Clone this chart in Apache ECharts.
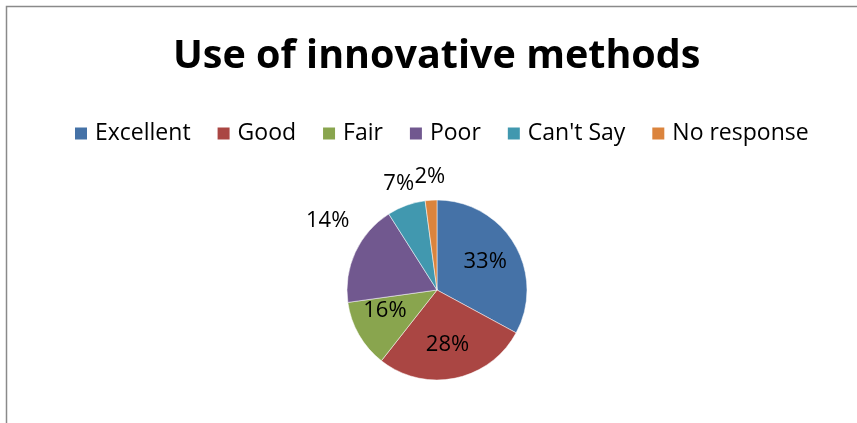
<!DOCTYPE html>
<html>
<head>
<meta charset="utf-8">
<script src="https://cdn.jsdelivr.net/npm/echarts@6/dist/echarts.min.js"></script>
<style>
html,body{margin:0;padding:0;background:#fff;}
#chart{width:857px;height:423px;}
</style>
</head>
<body>
<div id="chart"></div>
<script>
var titleText = 'Use of innovative methods';
var categories = ['Excellent', 'Good', 'Fair', 'Poor', "Can't Say", 'No response'];
// slice sizes as drawn in the reference picture
var drawnShares = [32.9, 27.7, 12.2, 18.2, 6.9, 2.1];
// percentages as printed on the reference picture
var printedPercents = [33, 28, 16, 14, 7, 2];
var colors = ['#4572A7', '#AA4643', '#89A54E', '#71588F', '#4198AF', '#DB843D'];

var FONT = '"Open Sans", Lato, sans-serif';

var chart = echarts.init(document.getElementById('chart'), null, {renderer: 'canvas'});

// invisible pie rings that only carry the printed percentage labels
function labelSeries(radius, shownIndices) {
  return {
    type: 'pie',
    silent: true,
    center: [437, 290],
    radius: radius,
    startAngle: 90,
    clockwise: true,
    z: 5,
    itemStyle: {color: 'rgba(0,0,0,0)', borderWidth: 0},
    emphasis: {disabled: true},
    legendHoverLink: false,
    data: categories.map(function (c, i) {
      return {
        name: c,
        value: printedPercents[i],
        label: {show: shownIndices.indexOf(i) >= 0}
      };
    }),
    label: {
      position: 'inside',
      formatter: function (p) { return printedPercents[p.dataIndex] + '%'; },
      fontFamily: FONT,
      fontSize: 22,
      color: '#000',
      textBorderWidth: 0
    },
    labelLine: {show: false}
  };
}

chart.setOption({
  animation: false,
  color: colors,
  title: {
    text: titleText,
    left: 168,
    top: 32,
    textStyle: {fontFamily: FONT, fontWeight: 'bold', fontSize: 39.5, color: '#000'}
  },
  legend: {
    data: categories,
    left: 68,
    top: 117,
    icon: 'rect',
    itemWidth: 14,
    itemHeight: 14,
    itemGap: 25,
    textStyle: {fontFamily: FONT, fontSize: 23, color: '#000', padding: [0, 0, 0, 2]}
  },
  graphic: [{
    type: 'polyline',
    shape: {points: [[6.5, 423], [6.5, 6.5], [857, 6.5]]},
    style: {stroke: '#8a8a8a', lineWidth: 1.5, fill: null},
    silent: true
  }],
  series: [{
    type: 'pie',
    center: [437, 290],
    radius: [0, 90],
    startAngle: 90,
    clockwise: true,
    data: categories.map(function (c, i) { return {name: c, value: drawnShares[i]}; }),
    itemStyle: {borderColor: '#fff', borderWidth: 0.5},
    label: {show: false},
    labelLine: {show: false}
  },
  labelSeries([0, 106], [0, 1, 2]),
  labelSeries([90, 163], [3]),
  labelSeries([90, 130], [4, 5])
  ]
});
</script>
</body>
</html>
